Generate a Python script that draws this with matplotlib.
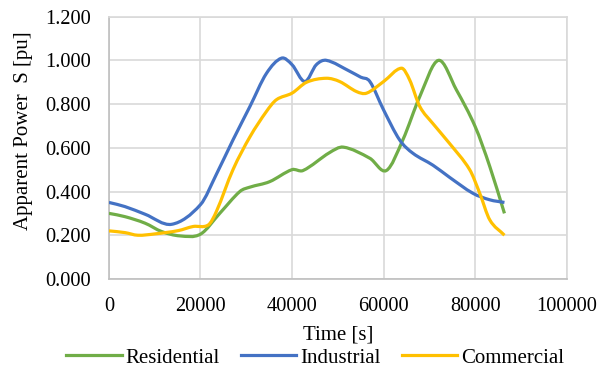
import numpy as np
import matplotlib
matplotlib.use("Agg")
import matplotlib.pyplot as plt
from matplotlib.path import Path
from matplotlib.patches import PathPatch
from matplotlib.lines import Line2D

plt.rcParams['font.family'] = ['Liberation Serif', 'DejaVu Serif']

# values (time in s, apparent power in pu)
res_t = [0, 3500, 7900, 11500, 15500, 20000, 24200, 28600, 30800, 35100, 40000, 42400,
         48200, 51200, 57000, 60600, 64200, 67900, 72000, 75900, 80000, 83200, 86400]
res_s = [0.30, 0.285, 0.255, 0.217, 0.197, 0.205, 0.30, 0.40, 0.42, 0.445, 0.50, 0.496,
         0.578, 0.603, 0.552, 0.496, 0.636, 0.834, 1.0, 0.865, 0.697, 0.514, 0.30]

ind_t = [0, 3500, 7900, 13700, 20000, 23500, 27100, 30800, 34400, 37700, 40000, 42800,
         45300, 47500, 52600, 55000, 57000, 60000, 63500, 66400, 70800, 74400, 79500,
         83200, 86400]
ind_s = [0.35, 0.331, 0.296, 0.25, 0.34, 0.48, 0.636, 0.789, 0.94, 1.01, 0.98, 0.903,
         0.98, 1.0, 0.95, 0.923, 0.903, 0.773, 0.636, 0.575, 0.52, 0.465, 0.392,
         0.362, 0.35]

com_t = [0, 3500, 6300, 10000, 15100, 18400, 21700, 23500, 27100, 30800, 34400, 36600,
         40000, 43200, 47500, 50400, 54100, 56300, 60000, 63900, 65700, 67900, 70800,
         74400, 78800, 81000, 83200, 86400]
com_s = [0.22, 0.212, 0.20, 0.206, 0.221, 0.24, 0.247, 0.31, 0.50, 0.65, 0.766, 0.82,
         0.85, 0.90, 0.918, 0.903, 0.857, 0.85, 0.903, 0.964, 0.91, 0.789, 0.71,
         0.62, 0.50, 0.392, 0.27, 0.20]

series = [("Residential", res_t, res_s, "#70AD47"),
          ("Industrial", ind_t, ind_s, "#4472C4"),
          ("Commercial", com_t, com_s, "#FFC000")]


def smooth_path(x, y):
    # smoothed line like Excel: cubic bezier pieces through the points
    x = np.asarray(x, float)
    y = np.asarray(y, float)
    n = len(x)
    m = np.zeros(n)
    m[0] = (y[1] - y[0]) / (x[1] - x[0])
    m[-1] = (y[-1] - y[-2]) / (x[-1] - x[-2])
    m[1:-1] = (y[2:] - y[:-2]) / (x[2:] - x[:-2])
    verts = [(x[0], y[0])]
    codes = [Path.MOVETO]
    for i in range(n - 1):
        h = (x[i + 1] - x[i]) / 3.0
        verts += [(x[i] + h, y[i] + m[i] * h),
                  (x[i + 1] - h, y[i + 1] - m[i + 1] * h),
                  (x[i + 1], y[i + 1])]
        codes += [Path.CURVE4] * 3
    return Path(verts, codes)


fig = plt.figure(figsize=(6.12, 3.69), dpi=100)
ax = fig.add_axes([0.178, 0.244, 0.748, 0.711])

handles = []
for name, t, s, c in series:
    patch = PathPatch(smooth_path(t, s), facecolor="none", edgecolor=c,
                      lw=2.3, capstyle="butt", zorder=3)
    ax.add_patch(patch)
    handles.append(Line2D([], [], color=c, lw=2.3, label=name))

ax.set_xlim(0, 100000)
ax.set_ylim(0, 1.2)
ax.set_xticks(np.arange(0, 100001, 20000))
ax.set_yticks(np.arange(0, 1.21, 0.2))
ax.set_yticklabels(["%.3f" % v for v in np.arange(0, 1.21, 0.2)])
ax.tick_params(length=0, labelsize=14.7, colors="#000000")
ax.tick_params(axis="x", pad=13)
ax.tick_params(axis="y", pad=13)
ax.grid(True, color="#D9D9D9", lw=1.2)
ax.set_axisbelow(True)
for sp in ax.spines.values():
    sp.set_color("#D9D9D9")
    sp.set_linewidth(1.2)
ax.spines['left'].set_color("#BFBFBF")
ax.spines['bottom'].set_color("#BFBFBF")

ax.set_xlabel("Time [s]", fontsize=15)
ax.xaxis.set_label_coords(0.5, -0.178)
ax.set_ylabel("Apparent Power  S [pu]", fontsize=15)
ax.yaxis.set_label_coords(-0.165, 0.564)

fig.legend(handles=handles, loc="center", bbox_to_anchor=(0.515, 0.030),
           ncol=3, frameon=False, fontsize=15, handlelength=2.65,
           handletextpad=0.2, columnspacing=1.0, borderaxespad=0, borderpad=0)

plt.savefig("out.png", dpi=100)
